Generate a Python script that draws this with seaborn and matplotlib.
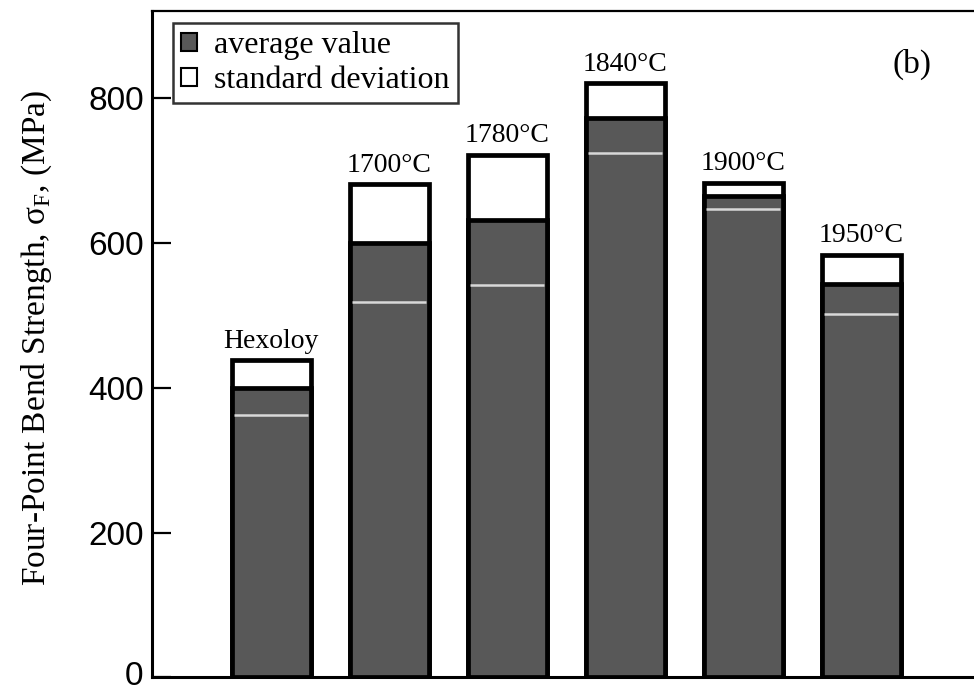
import matplotlib
matplotlib.use("Agg")
from matplotlib import pyplot as plt
from matplotlib.patches import Patch
import matplotlib.transforms as mtransforms
import numpy as np
import seaborn as sns

# samples and measured strengths (MPa)
labels = ["Hexoloy", "1700°C", "1780°C", "1840°C", "1900°C", "1950°C"]
avg = [400, 600, 632, 773, 665, 543]
sd = [38, 81, 90, 48, 18, 41]

top = [a + s for a, s in zip(avg, sd)]
low = [a - s for a, s in zip(avg, sd)]

sns.set_style("ticks")
plt.rcParams['font.family'] = ['Liberation Serif', 'DejaVu Serif']
plt.rcParams['mathtext.fontset'] = 'custom'
plt.rcParams['mathtext.rm'] = 'Liberation Serif'
plt.rcParams.update({'text.color': 'black', 'axes.labelcolor': 'black',
                     'xtick.color': 'black', 'ytick.color': 'black',
                     'axes.edgecolor': 'black'})

fig = plt.figure(figsize=(9.74, 6.94), dpi=100)
ax = fig.add_axes([152/974, (694-677.3)/694, (974-152)/974, (677.3-11)/694])

w = 0.67
dark = '#585858'
# white box = average + standard deviation
sns.barplot(x=labels, y=top, color='white', edgecolor='black', linewidth=3.4,
            width=w, saturation=1, ax=ax, zorder=2)
# dark bar = average value
sns.barplot(x=labels, y=avg, color=dark, edgecolor='black', linewidth=3.4,
            width=w, saturation=1, ax=ax, zorder=3)
# light line at average - standard deviation
xs = np.arange(len(labels))
ax.hlines(low, xs - w/2 + 0.02, xs + w/2 - 0.02, color='#d8d8d8', lw=1.8, zorder=4)

for i, lab in enumerate(labels):
    ax.annotate(lab, xy=(i, top[i]), xytext=(0, 9), textcoords='offset points',
                ha='center', va='baseline', fontsize=20)

ax.set_xlim(-1.0106, 5.955)
ax.set_ylim(0, 920.6)
ax.set_yticks([0, 200, 400, 600, 800])
ax.tick_params(axis='y', direction='in', length=14, width=1.6, pad=6,
               labelsize=24, labelfontfamily='Liberation Sans')
ax.tick_params(axis='x', bottom=False, labelbottom=False)
ax.set_xlabel('')
ax.set_ylabel('Four-Point Bend Strength, σ$_\\mathregular{F}$, (MPa)', fontsize=24)
ax.yaxis.set_label_coords(-0.119, 0.51)

# keep the "0" label inside the picture
lab0 = ax.get_yticklabels()[0]
lab0.set_transform(lab0.get_transform() +
                   mtransforms.ScaledTranslation(0, 4/100, fig.dpi_scale_trans))

for s in ['left', 'bottom']:
    ax.spines[s].set_linewidth(2.2)
ax.spines['top'].set_linewidth(1.6)
ax.spines['right'].set_visible(False)

ax.text(0.925, 0.92, '(b)', transform=ax.transAxes, fontsize=24,
        ha='center', va='center')

handles = [Patch(facecolor=dark, edgecolor='black', linewidth=1.5),
           Patch(facecolor='white', edgecolor='black', linewidth=1.5)]
leg = ax.legend(handles, ['average value', 'standard deviation'],
                loc='upper left', bbox_to_anchor=(0.025, 0.982), fontsize=23,
                frameon=True, fancybox=False, edgecolor='black',
                handlelength=0.5, handleheight=0.5, handletextpad=0.55,
                labelspacing=0.2, borderpad=0.25, borderaxespad=0)
leg.get_frame().set_linewidth(1.8)

fig.savefig('out.png', dpi=100)
